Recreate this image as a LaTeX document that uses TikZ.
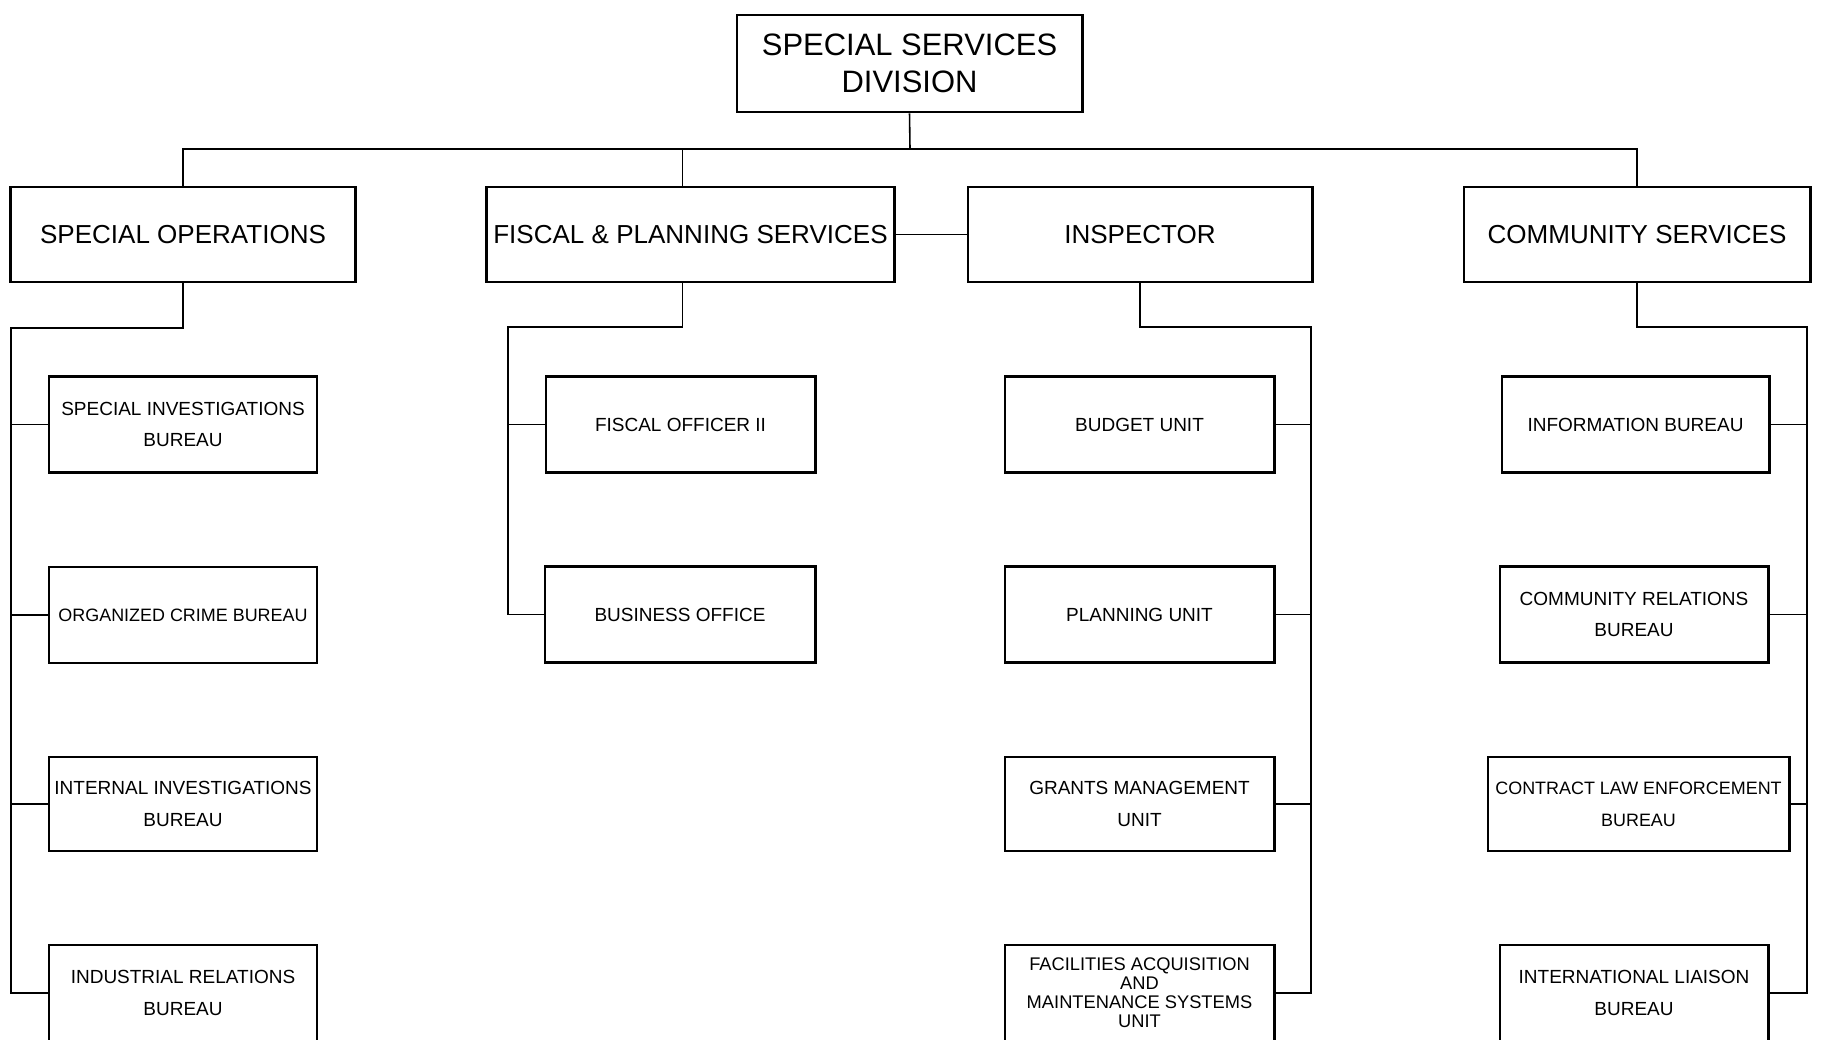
\documentclass[tikz,border=0pt]{standalone}
\usepackage{fontspec}
\setmainfont{Liberation Sans}
\usetikzlibrary{positioning}

\begin{document}
\begin{tikzpicture}[x=0.01cm,y=-0.01cm,
    box/.style={draw,line width=0.8pt,rectangle,align=center,inner sep=1pt},
    topbox/.style={box,font=\fontsize{8.8pt}{10.5pt}\selectfont},
    headbox/.style={box,minimum height=0.95cm,font=\fontsize{7.4pt}{9pt}\selectfont},
    unitbox/.style={box,minimum width=2.68cm,minimum height=0.96cm,font=\fontsize{5.4pt}{9pt}\selectfont},
    link/.style={line width=0.45pt}]
  \useasboundingbox (0,0) rectangle (1825,1040);
  % division and its four sections
  \node[topbox,minimum width=3.45cm,minimum height=0.97cm] (top) at (909.5,63.5) {SPECIAL SERVICES\\DIVISION};
  \node[headbox,minimum width=3.45cm] (so) at (183,234.5) {SPECIAL OPERATIONS};
  \node[headbox,minimum width=4.07cm] (fp) at (690.5,234.5) {FISCAL \& PLANNING SERVICES};
  \node[headbox,minimum width=3.44cm] (ins) at (1140,234.5) {INSPECTOR};
  \node[headbox,minimum width=3.46cm] (cs) at (1637,234.5) {COMMUNITY SERVICES};
  \coordinate (bus) at (910,149);
  \draw[link] (top.south) -- (bus);
  \draw[link] (so.north) |- (bus) -| (cs.north);
  \draw[link] ([xshift=-0.08cm]fp.north) -- ([xshift=-0.08cm]fp.north |- bus);
  \draw[link] (fp.east) -- (ins.west);
  % special operations
  \node[unitbox] (sib) at (183,424.5) {SPECIAL INVESTIGATIONS\\BUREAU};
  \node[unitbox,font=\fontsize{5.1pt}{9pt}\selectfont] (ocb) at (183,615) {ORGANIZED CRIME BUREAU};
  \node[unitbox,minimum height=0.94cm] (iib) at (183,804) {INTERNAL INVESTIGATIONS\\BUREAU};
  \node[unitbox] (irb) at (183,993) {INDUSTRIAL RELATIONS\\BUREAU};
  \coordinate (sotop) at (11,328);
  \draw[link] (so.south) |- (sotop) |- (irb.west);
  \foreach \n in {sib,ocb,iib}
    \draw[link] (\n.west) -- (\n.west -| sotop);
  % fiscal and planning
  \node[unitbox,minimum width=2.69cm] (fo) at (680.5,424.5) {FISCAL OFFICER II};
  \node[unitbox,minimum width=2.70cm] (bo) at (680,614.5) {BUSINESS OFFICE};
  \coordinate (fptop) at (508,327);
  \draw[link] ([xshift=-0.08cm]fp.south) |- (fptop) |- (bo.west);
  \draw[link] (fo.west) -- (fo.west -| fptop);
  % inspector
  \node[unitbox,minimum width=2.69cm] (bu) at (1139.5,424.5) {BUDGET UNIT};
  \node[unitbox,minimum width=2.69cm] (pu) at (1139.5,614.5) {PLANNING UNIT};
  \node[unitbox,minimum width=2.69cm,minimum height=0.94cm] (gmu) at (1139.5,804) {GRANTS MANAGEMENT\\UNIT};
  \node[unitbox,minimum width=2.69cm,font=\fontsize{5.2pt}{5.4pt}\selectfont] (fam) at (1139.5,993) {FACILITIES ACQUISITION\\AND\\MAINTENANCE SYSTEMS\\UNIT};
  \coordinate (instop) at (1311,327);
  \draw[link] (ins.south) |- (instop) |- (fam.east);
  \foreach \n in {bu,pu,gmu}
    \draw[link] (\n.east) -- (\n.east -| instop);
  % community services
  \node[unitbox,minimum width=2.67cm] (ib) at (1635.5,424.5) {INFORMATION BUREAU};
  \node[unitbox] (crb) at (1634,614.5) {COMMUNITY RELATIONS\\BUREAU};
  \node[unitbox,minimum width=3.01cm,minimum height=0.94cm,font=\fontsize{5.1pt}{9pt}\selectfont] (cleb) at (1638.5,804) {CONTRACT LAW ENFORCEMENT\\BUREAU};
  \node[unitbox] (ilb) at (1634,993) {INTERNATIONAL LIAISON\\BUREAU};
  \coordinate (cstop) at (1807,327);
  \draw[link] (cs.south) |- (cstop) |- (ilb.east);
  \foreach \n in {ib,crb,cleb}
    \draw[link] (\n.east) -- (\n.east -| cstop);
\end{tikzpicture}
\end{document}
